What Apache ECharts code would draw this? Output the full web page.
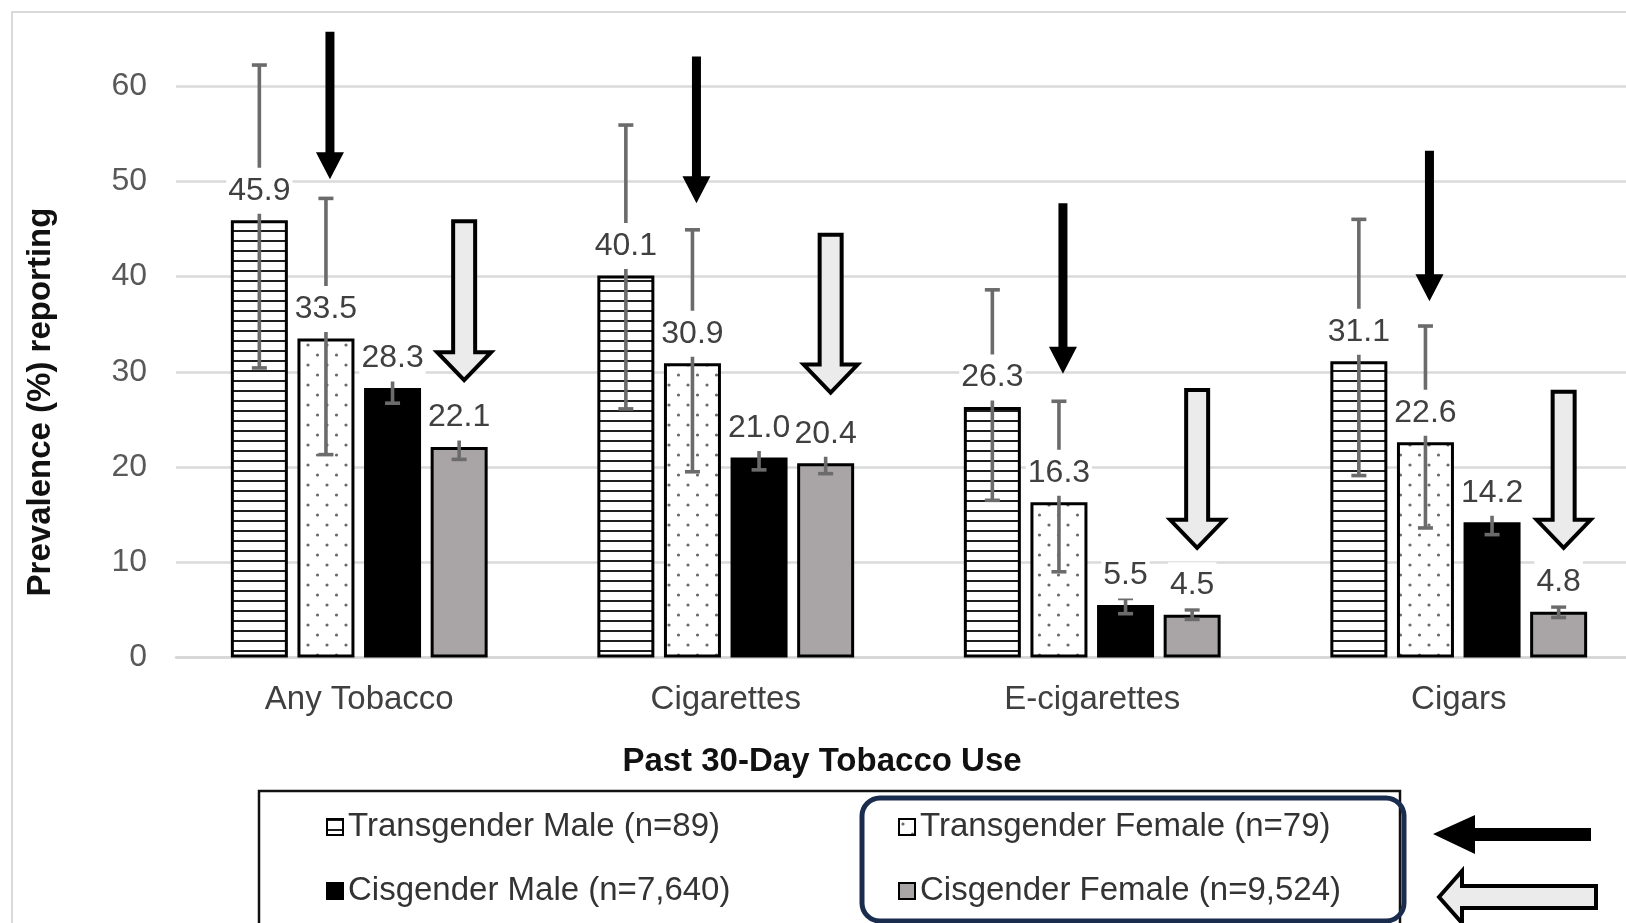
<!DOCTYPE html>
<html>
<head>
<meta charset="utf-8">
<title>Past 30-Day Tobacco Use</title>
<script src="https://cdn.jsdelivr.net/npm/echarts@6/dist/echarts.min.js"></script>
<style>
  html, body { margin: 0; padding: 0; background: #fff; }
  #chart { width: 1626px; height: 923px; }
</style>
</head>
<body>
<div id="chart"></div>
<script>
// ---- data ----
const categories = ['Any Tobacco', 'Cigarettes', 'E-cigarettes', 'Cigars'];
const groups = [
  'Transgender Male (n=89)',
  'Transgender Female (n=79)',
  'Cisgender Male (n=7,640)',
  'Cisgender Female (n=9,524)'
];
const transMale   = [45.9, 40.1, 26.3, 31.1];
const transFemale = [33.5, 30.9, 16.3, 22.6];
const cisMale     = [28.3, 21.0, 5.5, 14.2];
const cisFemale   = [22.1, 20.4, 4.5, 4.8];

// 95% confidence limits
const transMaleLow    = [30.4, 26.1, 16.5, 19.1];
const transMaleHigh   = [62.2, 55.9, 38.6, 46.0];
const transFemaleLow  = [21.3, 19.5, 9.0, 13.6];
const transFemaleHigh = [48.2, 44.9, 26.9, 34.8];
const cisMaleLow      = [26.7, 19.7, 4.6, 12.9];
const cisMaleHigh     = [29.9, 22.2, 6.2, 15.3];
const cisFemaleLow    = [20.8, 19.3, 4.0, 4.2];
const cisFemaleHigh   = [23.2, 21.5, 5.0, 5.3];

// callout arrows (tail and tip, in % units)
const transFemaleArrowTail = [65.7, 63.1, 47.7, 53.2];
const transFemaleArrowTip  = [50.2, 47.7, 29.8, 37.4];
const cisFemaleArrowTail   = [46.0, 44.6, 28.3, 28.1];
const cisFemaleArrowTip    = [28.9, 27.6, 11.3, 11.3];

const yTicks = [0, 10, 20, 30, 40, 50, 60];

// ---- styling helpers ----
const FONT = '"Liberation Sans", Arial, sans-serif';
const BAR_W = 57;
const STEP = 66.6;                       // centre-to-centre distance of bars in a group
const BAR_GAP = STEP / BAR_W - 1;

function makeCanvas(w, h, draw) {
  const c = document.createElement('canvas');
  c.width = w; c.height = h;
  const ctx = c.getContext('2d');
  ctx.fillStyle = '#fff';
  ctx.fillRect(0, 0, w, h);
  draw(ctx);
  return c;
}
const stripes = {
  image: makeCanvas(10, 10, ctx => { ctx.fillStyle = '#1e1e1e'; ctx.fillRect(0, 0, 10, 2); }),
  repeat: 'repeat'
};
const dots = {
  image: makeCanvas(19, 20, ctx => {
    ctx.fillStyle = '#6a6a6a';
    ctx.beginPath(); ctx.arc(4, 5, 1.6, 0, Math.PI * 2); ctx.fill();
    ctx.beginPath(); ctx.arc(13.5, 15, 1.6, 0, Math.PI * 2); ctx.fill();
  }),
  repeat: 'repeat'
};
const fills = [stripes, dots, '#000000', '#a9a5a7'];
const values = [transMale, transFemale, cisMale, cisFemale];
const lows = [transMaleLow, transFemaleLow, cisMaleLow, cisFemaleLow];
const highs = [transMaleHigh, transFemaleHigh, cisMaleHigh, cisFemaleHigh];

function slotX(api, cat, s) {
  return api.coord([cat, 0])[0] + (s - 1.5) * STEP;
}

// ---- derived series data ----
const ciData = [];
const labelData = [];
for (let s = 0; s < 4; s++) {
  for (let c = 0; c < categories.length; c++) {
    ciData.push([c, s, lows[s][c], highs[s][c]]);
    labelData.push([c, s, values[s][c]]);
  }
}
const arrowData = [];
for (let c = 0; c < categories.length; c++) {
  arrowData.push([c, 1, transFemaleArrowTail[c], transFemaleArrowTip[c], 0]);
  arrowData.push([c, 3, cisFemaleArrowTail[c], cisFemaleArrowTip[c], 1]);
}

const barSeries = groups.map((name, s) => ({
  name: name,
  type: 'bar',
  data: values[s],
  barWidth: BAR_W,
  barGap: (BAR_GAP * 100).toFixed(2) + '%',
  itemStyle: { color: fills[s], borderColor: '#000', borderWidth: 3 },
  emphasis: { disabled: true },
  z: 2
}));

const errorSeries = {
  type: 'custom',
  data: ciData,
  z: 3,
  silent: true,
  encode: { x: 0, y: [2, 3] },
  renderItem: function (params, api) {
    const c = api.value(0), s = api.value(1);
    const x = slotX(api, c, s);
    const yLo = api.coord([c, api.value(2)])[1];
    const yHi = api.coord([c, api.value(3)])[1];
    const st = { stroke: '#6b6b6b', lineWidth: 3.6 };
    return {
      type: 'group',
      children: [
        { type: 'line', shape: { x1: x, y1: yLo, x2: x, y2: yHi }, style: st },
        { type: 'line', shape: { x1: x - 7.5, y1: yHi, x2: x + 7.5, y2: yHi }, style: st },
        { type: 'line', shape: { x1: x - 7.5, y1: yLo, x2: x + 7.5, y2: yLo }, style: st }
      ]
    };
  }
};

const labelSeries = {
  type: 'custom',
  data: labelData,
  z: 4,
  silent: true,
  encode: { x: 0, y: 2 },
  renderItem: function (params, api) {
    const c = api.value(0), s = api.value(1), v = api.value(2);
    const x = slotX(api, c, s);
    const y = api.coord([c, v])[1] - 29.5;
    return {
      type: 'text',
      x: x, y: y,
      style: {
        text: v.toFixed(1),
        fontFamily: FONT,
        fontSize: 32,
        fill: '#404040',
        align: 'center',
        verticalAlign: 'middle',
        backgroundColor: '#ffffff',
        padding: [7, 2]
      }
    };
  }
};

const arrowSeries = {
  type: 'custom',
  data: arrowData,
  z: 5,
  silent: true,
  clip: false,
  encode: { x: 0, y: [2, 3] },
  renderItem: function (params, api) {
    const c = api.value(0), s = api.value(1), kind = api.value(4);
    const x = slotX(api, c, s) + (kind ? 5 : 4);
    const y0 = api.coord([c, api.value(2)])[1];
    const y1 = api.coord([c, api.value(3)])[1];
    if (!kind) {
      const sh = 4.5, hh = 14, hl = 27;
      return {
        type: 'polygon',
        shape: { points: [[x - sh, y0], [x + sh, y0], [x + sh, y1 - hl], [x + hh, y1 - hl], [x, y1], [x - hh, y1 - hl], [x - sh, y1 - hl]] },
        style: { fill: '#000' }
      };
    }
    const sh = 11, hh = 27, hl = 28, yt = y1 - 2;
    return {
      type: 'polygon',
      shape: { points: [[x - sh, y0 + 2], [x + sh, y0 + 2], [x + sh, yt - hl], [x + hh, yt - hl], [x, yt], [x - hh, yt - hl], [x - sh, yt - hl]] },
      style: { fill: '#ebebeb', stroke: '#000', lineWidth: 4, lineJoin: 'miter' }
    };
  }
};

const legendPos = [[326, 809], [898, 809], [326, 873], [898, 873]];
const legends = groups.map((name, i) => ({
  data: [name],
  left: legendPos[i][0],
  top: legendPos[i][1],
  padding: 0,
  icon: 'rect',
  itemWidth: 16,
  itemHeight: 16,
  selectedMode: false,
  itemStyle: { borderColor: '#000', borderWidth: 2 },
  textStyle: { fontFamily: FONT, fontSize: 33, color: '#333', lineHeight: 36 }
}));

const chart = echarts.init(document.getElementById('chart'), null, { renderer: 'canvas' });
chart.setOption({
  animation: false,
  backgroundColor: '#ffffff',
  textStyle: { fontFamily: FONT },
  grid: { left: 176, top: 86, width: 1466, height: 571.5, containLabel: false, outerBoundsMode: 'none' },
  legend: legends,
  xAxis: {
    type: 'category',
    data: categories,
    axisTick: { show: false },
    axisLine: { show: true, lineStyle: { color: '#d6d6d6', width: 2.5 } },
    axisLabel: { interval: 0, margin: 26, fontSize: 33, color: '#404040', fontFamily: FONT }
  },
  yAxis: {
    type: 'value',
    min: yTicks[0],
    max: yTicks[yTicks.length - 1],
    interval: yTicks[1] - yTicks[0],
    axisLine: { show: false },
    axisTick: { show: false },
    axisLabel: { margin: 29, fontSize: 32, color: '#595959', fontFamily: FONT },
    splitLine: { lineStyle: { color: '#dadada', width: 2.5 } }
  },
  graphic: [
    { type: 'rect', z: -1, silent: true,
      shape: { x: 12, y: 12, width: 1700, height: 1000 },
      style: { fill: 'none', stroke: '#d9d9d9', lineWidth: 2 } },
    { type: 'text', silent: true, x: 41, y: 402, rotation: Math.PI / 2,
      style: { text: 'Prevalence (%) reporting', fontFamily: FONT, fontWeight: 'bold', fontSize: 33,
               fill: '#111', align: 'center', verticalAlign: 'middle' } },
    { type: 'text', silent: true, x: 822, y: 762,
      style: { text: 'Past 30-Day Tobacco Use', fontFamily: FONT, fontWeight: 'bold', fontSize: 33,
               fill: '#111', align: 'center', verticalAlign: 'middle' } },
    { type: 'rect', silent: true,
      shape: { x: 259, y: 791, width: 1141, height: 200 },
      style: { fill: 'none', stroke: '#111', lineWidth: 2.5 } },
    { type: 'rect', silent: true,
      shape: { x: 862, y: 798, width: 542, height: 123, r: 18 },
      style: { fill: 'none', stroke: '#1b2d4f', lineWidth: 5 } },
    { type: 'polygon', silent: true,
      shape: { points: [[1433, 834], [1475, 815], [1475, 828], [1591, 828], [1591, 841], [1475, 841], [1475, 854]] },
      style: { fill: '#000' } },
    { type: 'polygon', silent: true,
      shape: { points: [[1439, 897], [1462, 871], [1462, 886], [1596, 886], [1596, 908], [1462, 908], [1462, 923]] },
      style: { fill: '#ebebeb', stroke: '#000', lineWidth: 4 } }
  ],
  series: barSeries.concat([errorSeries, labelSeries, arrowSeries])
});
</script>
</body>
</html>
